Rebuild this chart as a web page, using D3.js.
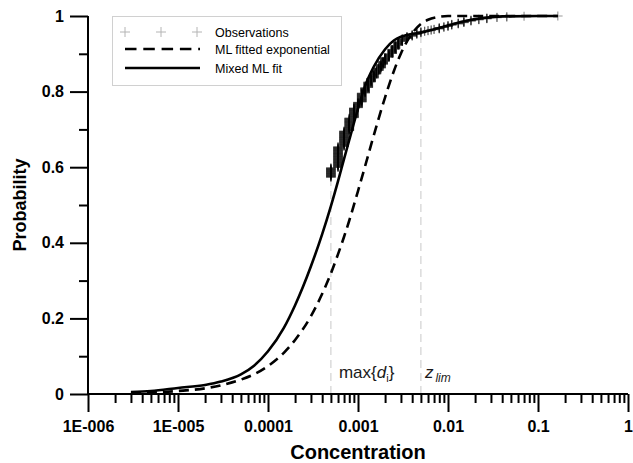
<!DOCTYPE html>
<html>
<head>
<meta charset="utf-8">
<script src="https://cdn.jsdelivr.net/npm/d3@7"></script>
<style>
  html, body { margin: 0; padding: 0; background: #fff; }
  svg { display: block; font-family: "Liberation Sans", Arial, sans-serif; }
</style>
</head>
<body>
<svg id="chart" width="633" height="463"></svg>
<script>
// Axis ticks
const xMajorTicks = [1e-6, 1e-5, 1e-4, 1e-3, 1e-2, 1e-1, 1];
const xMajorLabels = ["1E-006", "1E-005", "0.0001", "0.001", "0.01", "0.1", "1"];
const yMajorTicks = [0, 0.2, 0.4, 0.6, 0.8, 1];
const yMajorLabels = ["0", "0.2", "0.4", "0.6", "0.8", "1"];
const yMinorTicks = [0.1, 0.3, 0.5, 0.7, 0.9];

// Observed concentrations (distinct reported values) and how many samples had each
const sampleSize = 1200;
const censoredCount = 687;      // samples below the detection limit
const obsConc = [0.0005, 0.0006, 0.0007, 0.0008, 0.0009, 0.0010, 0.0011, 0.0012,
                 0.0013, 0.0014, 0.0015, 0.0016, 0.0017, 0.0018, 0.0019, 0.0020,
                 0.0022, 0.0024, 0.0026, 0.0028, 0.0031, 0.0035, 0.0040, 0.0045,
                 0.0050, 0.0055, 0.0060, 0.0065, 0.0070, 0.0080, 0.0090, 0.010,
                 0.011, 0.013, 0.015, 0.018, 0.022, 0.027, 0.035, 0.045, 0.070, 0.166];
const obsCount = [31, 67, 50, 41, 32, 18, 29, 17,
                  18, 12, 13, 11, 8, 12, 10, 12,
                  12, 14, 12, 12, 10, 7, 6, 5,
                  4, 2, 2, 2, 2, 5, 3, 4,
                  4, 4, 5, 4, 3, 4, 2, 2, 1, 1];

// Fitted CDFs, tabulated
const expConc = [3e-6, 1e-5, 2e-5, 3e-5, 5e-5, 7e-5, 1e-4, 1.5e-4, 2e-4, 3e-4, 4e-4, 5e-4,
                 6e-4, 7e-4, 8e-4, 1e-3, 1.2e-3, 1.5e-3, 2e-3, 2.5e-3, 3e-3, 4e-3, 5e-3,
                 6e-3, 8e-3, 1e-2, 0.166];
const expProb = [0.002, 0.008, 0.015, 0.023, 0.038, 0.052, 0.074, 0.109, 0.143, 0.206, 0.265, 0.319,
                 0.370, 0.416, 0.459, 0.537, 0.603, 0.685, 0.785, 0.854, 0.901, 0.954, 0.979,
                 0.990, 0.998, 1.0, 1.0];
const mixConc = [3e-6, 5e-6, 1e-5, 2e-5, 3e-5, 5e-5, 7e-5, 1e-4, 1.5e-4, 2e-4, 3e-4, 4e-4,
                 5e-4, 6e-4, 7e-4, 8e-4, 1e-3, 1.2e-3, 1.5e-3, 2e-3, 2.5e-3, 3e-3, 3.5e-3,
                 5e-3, 7e-3, 0.01, 0.015, 0.025, 0.04, 0.166];
const mixProb = [0.005, 0.008, 0.016, 0.024, 0.033, 0.052, 0.075, 0.113, 0.175, 0.235, 0.338, 0.423,
                 0.497, 0.563, 0.622, 0.672, 0.755, 0.815, 0.866, 0.912, 0.935, 0.945, 0.950,
                 0.956, 0.965, 0.975, 0.986, 0.995, 0.999, 1.0];

// Reference levels
const maxDetLimit = 0.0005;
const zLim = 0.005;

const svg = d3.select("#chart");
const x = d3.scaleLog().domain([1e-6, 1]).range([88, 628]);
const y = d3.scaleLinear().domain([0, 1]).range([394, 16]);

// Empirical CDF of the observed samples
const obsPoints = [];
let rank = censoredCount;
obsConc.forEach((c, i) => {
  for (let k = 0; k < obsCount[i]; k++) {
    rank += 1;
    obsPoints.push({ c: c, p: rank / sampleSize });
  }
});

// Drop lines at the detection limit and z_lim
const firstObsP = obsPoints[0].p;
const zLimP = obsPoints.filter(d => d.c <= zLim).slice(-1)[0].p;
const drops = [{ c: maxDetLimit, p: firstObsP }, { c: zLim, p: zLimP }];
svg.append("g").selectAll("line").data(drops).join("line")
  .attr("x1", d => x(d.c)).attr("x2", d => x(d.c))
  .attr("y1", y(0)).attr("y2", d => y(d.p))
  .attr("stroke", "#c8c8c8").attr("stroke-width", 1)
  .attr("stroke-dasharray", "8,5");

// Annotations
const ann = svg.append("g").attr("font-size", 17).attr("fill", "#1a1a1a");
const t1 = ann.append("text").attr("x", x(maxDetLimit) + 8).attr("y", 378);
t1.append("tspan").text("max{");
t1.append("tspan").attr("font-style", "italic").text("d");
t1.append("tspan").attr("font-size", 11).attr("dy", 4).text("i");
t1.append("tspan").attr("dy", -4).text("}");
const t2 = ann.append("text").attr("x", x(zLim) + 4).attr("y", 378);
t2.append("tspan").attr("font-style", "italic").text("z");
t2.append("tspan").attr("font-style", "italic").attr("font-size", 12).attr("dy", 4).attr("dx", 2).text("lim");

// Observation markers
const plus = "M-4.8,0H4.8M0,-4.5V4.5";
svg.append("g").selectAll("path").data(obsPoints).join("path")
  .attr("transform", d => `translate(${x(d.c)},${y(d.p)})`)
  .attr("d", plus)
  .attr("fill", "none")
  .attr("stroke", "#000").attr("stroke-opacity", 0.4).attr("stroke-width", 1.2);

// Fitted curves
const lineGen = d3.line().x(d => x(d[0])).y(d => y(d[1])).curve(d3.curveMonotoneX);
svg.append("path")
  .attr("d", lineGen(d3.zip(expConc, expProb)))
  .attr("fill", "none").attr("stroke", "#000").attr("stroke-width", 2.6)
  .attr("stroke-dasharray", "10,6");
svg.append("path")
  .attr("d", lineGen(d3.zip(mixConc, mixProb)))
  .attr("fill", "none").attr("stroke", "#000").attr("stroke-width", 2.6);

// X axis
const xMinor = [];
for (let e = -6; e < 0; e++) for (let m = 2; m <= 9; m++) xMinor.push(m * Math.pow(10, e));
const gxMinor = svg.append("g").attr("transform", `translate(0,${y(0)})`)
  .call(d3.axisBottom(x).tickValues(xMinor).tickSize(9).tickFormat(""));
const gx = svg.append("g").attr("transform", `translate(0,${y(0)})`)
  .call(d3.axisBottom(x).tickValues(xMajorTicks).tickSize(18).tickPadding(9)
    .tickFormat((d, i) => xMajorLabels[i]));

// Y axis
const gyMinor = svg.append("g").attr("transform", `translate(${x(1e-6)},0)`)
  .call(d3.axisLeft(y).tickValues(yMinorTicks).tickSize(9).tickFormat(""));
const gy = svg.append("g").attr("transform", `translate(${x(1e-6)},0)`)
  .call(d3.axisLeft(y).tickValues(yMajorTicks).tickSize(18).tickPadding(6)
    .tickFormat((d, i) => yMajorLabels[i]));

[gx, gy, gxMinor, gyMinor].forEach(g => {
  g.selectAll(".domain").attr("stroke", "#000").attr("stroke-width", 2);
  g.selectAll(".tick line").attr("stroke", "#000").attr("stroke-width", 2);
  g.selectAll(".tick text").attr("font-size", 16).attr("font-weight", "bold")
    .attr("fill", "#000").attr("font-family", "Liberation Sans, Arial, sans-serif");
});
gxMinor.select(".domain").remove();
gyMinor.select(".domain").remove();
gx.select(".domain").attr("d", `M${x(1e-6)},0H${x(1)}`);
gy.select(".domain").attr("d", `M0,${y(0)}V${y(1)}`);

// Axis titles
svg.append("text").attr("x", (x(1e-6) + x(1)) / 2).attr("y", 459)
  .attr("text-anchor", "middle").attr("font-size", 20).attr("font-weight", "bold")
  .text("Concentration");
svg.append("text").attr("transform", `translate(26,${(y(0) + y(1)) / 2}) rotate(-90)`)
  .attr("text-anchor", "middle").attr("font-size", 18).attr("font-weight", "bold")
  .text("Probability");

// Legend
const leg = svg.append("g");
leg.append("rect").attr("x", 112.5).attr("y", 16.5).attr("width", 229).attr("height", 69)
  .attr("fill", "#fff").attr("stroke", "#d0d0d0").attr("stroke-width", 1);
[125, 161, 197].forEach(px => {
  leg.append("path").attr("transform", `translate(${px},32)`)
    .attr("d", "M-5,0H5M0,-5V5").attr("fill", "none")
    .attr("stroke", "#b4b4b4").attr("stroke-width", 1);
});
leg.append("line").attr("x1", 125).attr("x2", 200).attr("y1", 49).attr("y2", 49)
  .attr("stroke", "#000").attr("stroke-width", 2.6).attr("stroke-dasharray", "11.5,6.8");
leg.append("line").attr("x1", 125).attr("x2", 200).attr("y1", 68).attr("y2", 68)
  .attr("stroke", "#000").attr("stroke-width", 2.6);
const legLabels = ["Observations", "ML fitted exponential", "Mixed ML fit"];
const legY = [32, 49, 68];
leg.selectAll("text.lab").data(legLabels).join("text").attr("class", "lab")
  .attr("x", 215).attr("y", (d, i) => legY[i]).attr("dy", "0.36em")
  .attr("font-size", 12.5).attr("fill", "#000").text(d => d);
</script>
</body>
</html>
